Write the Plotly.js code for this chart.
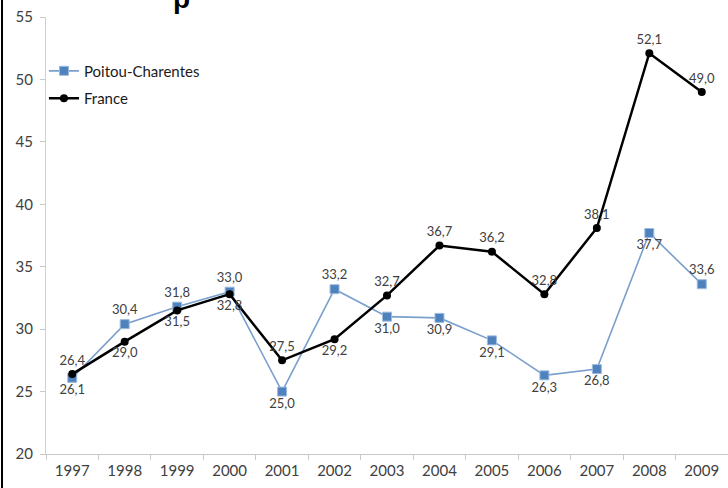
<!DOCTYPE html>
<html>
<head>
<meta charset="utf-8">
<script src="https://cdn.plot.ly/plotly-3.0.1.min.js"></script>
<style>
  html, body { margin: 0; padding: 0; background: #ffffff; }
  #chart { width: 728px; height: 488px; }
</style>
</head>
<body>
<div id="chart"></div>
<script>
const years = ["1997","1998","1999","2000","2001","2002","2003","2004","2005","2006","2007","2008","2009"];
const poitouValues = [26.1, 30.4, 31.8, 33.0, 25.0, 33.2, 31.0, 30.9, 29.1, 26.3, 26.8, 37.7, 33.6];
const franceValues = [26.4, 29.0, 31.5, 32.8, 27.5, 29.2, 32.7, 36.7, 36.2, 32.8, 38.1, 52.1, 49.0];
const poitouLabelPos = ["bottom","top","top","top","bottom","top","bottom","bottom","bottom","bottom","bottom","bottom","top"];
const franceLabelPos = ["top","bottom","bottom","bottom","top","bottom","top","top","top","top","top","top","top"];
const yTicks = [20, 25, 30, 35, 40, 45, 50, 55];

const fmt = v => v.toFixed(1).replace(".", ",");
const labelFont = {family: "Lato, 'Open Sans', sans-serif", size: 13, color: "#404040"};

const poitou = {
  x: years, y: poitouValues, name: "Poitou-Charentes", type: "scatter",
  mode: "lines+markers+text",
  legendgroup: "a",
  text: poitouValues.map(fmt),
  textposition: poitouLabelPos.map(p => p + " center"),
  textfont: labelFont,
  line: {color: "#7a9fcd", width: 1.6},
  marker: {symbol: "square", size: 9, color: "#4f81bd", line: {color: "#9dbbe0", width: 1}},
  cliponaxis: false
};
const france = {
  x: years, y: franceValues, name: "France", type: "scatter",
  mode: "lines+markers+text",
  legendgroup: "b",
  text: franceValues.map(fmt),
  textposition: franceLabelPos.map(p => p + " center"),
  textfont: labelFont,
  line: {color: "#000000", width: 2.5},
  marker: {symbol: "circle", size: 8, color: "#000000"},
  cliponaxis: false
};

const layout = {
  width: 728, height: 488,
  margin: {l: 46, r: 0, t: 17, b: 34},
  paper_bgcolor: "#ffffff", plot_bgcolor: "#ffffff",
  showlegend: true,
  legend: {
    x: -0.003, y: 0.914, xanchor: "left", yanchor: "top",
    bgcolor: "rgba(0,0,0,0)",
    font: {family: "Lato, 'Open Sans', sans-serif", size: 15, color: "#1a1a1a"},
    traceorder: "grouped", tracegroupgap: 5, itemwidth: 30
  },
  xaxis: {
    type: "category",
    range: [-0.5, 12.5],
    showgrid: false, zeroline: false,
    showline: true, linecolor: "#c8c8c8", linewidth: 1,
    ticks: "outside", tickson: "boundaries", ticklen: 5, tickcolor: "#c8c8c8",
    tickfont: {family: "Lato, 'Open Sans', sans-serif", size: 15, color: "#404040"},
    ticklabelstandoff: 3,
    fixedrange: true
  },
  yaxis: {
    range: [20, 55],
    tickvals: yTicks,
    ticktext: yTicks.map(String),
    showgrid: false, zeroline: false,
    showline: true, linecolor: "#d0d0d0", linewidth: 1,
    ticks: "outside", ticklen: 5, tickcolor: "#c8c8c8",
    tickfont: {family: "Lato, 'Open Sans', sans-serif", size: 15, color: "#404040"},
    ticklabelstandoff: 4,
    fixedrange: true
  },
  shapes: [{
    type: "line", xref: "paper", yref: "paper",
    x0: -0.0645, x1: -0.0645, y0: -0.08, y1: 1.04,
    line: {color: "#000000", width: 2}
  }],
  annotations: [{
    text: "p", xref: "paper", yref: "paper",
    x: (181 - 46) / 682, y: (454 - 16) / 437,
    xanchor: "center", yanchor: "bottom", showarrow: false,
    font: {family: "Liberation Sans, sans-serif", size: 28, color: "#000000", weight: "bold"}
  }]
};

Plotly.newPlot("chart", [poitou, france], layout, {displayModeBar: false, staticPlot: true});
</script>
</body>
</html>
